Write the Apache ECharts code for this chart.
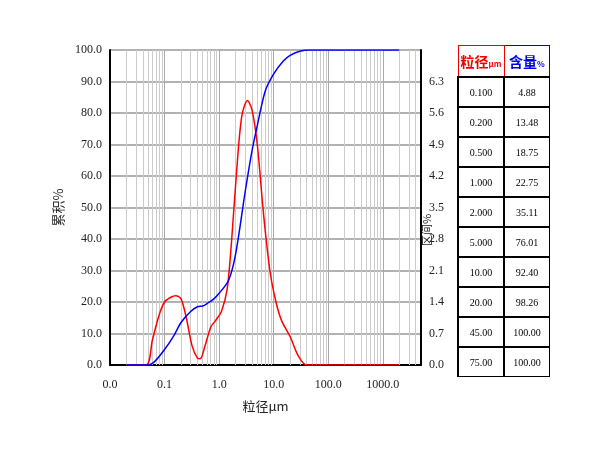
<!DOCTYPE html>
<html><head><meta charset="utf-8">
<script src="https://cdn.jsdelivr.net/npm/echarts@6/dist/echarts.min.js"></script>
<style>
body{margin:0;background:#fff;}
#c{position:absolute;left:0;top:0;width:600px;height:450px;}
#t{position:absolute;left:457px;top:45px;border-collapse:collapse;font-family:"Liberation Serif",serif;font-size:10px;}
#t td{border:1px solid #000;border-left:2px solid #000;width:44px;height:28px;text-align:center;padding:0;}
#t tr:not(:first-child) td{border-top:2px solid #000;}
#t th{height:30px;font-size:14px;font-weight:bold;font-family:"Noto Sans CJK SC";padding:0;}
</style></head><body>
<div id="c"></div>
<table id="t"></table>
<script>
const tableSize = ["0.100","0.200","0.500","1.000","2.000","5.000","10.00","20.00","45.00","75.00"];
const tableCum = ["4.88","13.48","18.75","22.75","35.11","76.01","92.40","98.26","100.00","100.00"];
const cumulative = [[0.02,0],[0.05,0],[0.065,1],[0.1,4.9],[0.15,9.5],[0.2,13.5],[0.3,17],[0.4,18.5],[0.5,18.75],[0.6,19.5],[0.8,21],[1,22.75],[1.5,27],[2,35.1],[3,55],[4,68],[5,76],[7,87],[10,92.4],[15,96.5],[20,98.3],[30,99.6],[45,100],[100,100],[2000,100]];
const differential = [[0.02,0],[0.046,0],[0.06,8],[0.08,16],[0.1,20],[0.13,21.5],[0.16,22],[0.2,21],[0.25,15],[0.32,6],[0.4,2.2],[0.45,2],[0.55,6],[0.7,12],[0.85,14],[1.1,17],[1.4,24],[1.7,40],[2.1,62],[2.6,79],[3.3,84],[4,81],[5,70],[6.5,48],[8.5,30],[11,20],[14,14],[20,9],[28,3],[40,0],[100,0],[2000,0]];
const minorGrid = [0.02,0.03,0.04,0.05,0.06,0.07,0.08,0.09,0.2,0.3,0.4,0.5,0.6,0.7,0.8,0.9,2,3,4,5,6,7,8,9,20,30,40,50,60,70,80,90,200,300,400,500,600,700,800,900,2000,3000,4000];

const t=document.getElementById('t');
t.innerHTML='<tr><th style="border:1px solid #e00;color:#e00">粒径<span style="font-size:8px">μm</span></th><th style="border:1px solid #00e;color:#00e">含量<span style="font-size:8px">%</span></th></tr>'+
 tableSize.map((s,i)=>'<tr><td>'+s+'</td><td>'+tableCum[i]+'</td></tr>').join('');

const ch=echarts.init(document.getElementById('c'));
const font={fontFamily:'Liberation Serif',fontSize:12,color:'#222'};
ch.setOption({
 animation:false,
 grid:{left:110,right:179,top:50,bottom:85},
 graphic:[{type:'text',x:421,y:246,rotation:Math.PI/2,style:{text:'区间%',font:'11px "Noto Sans CJK SC"',fill:'#222'}}],
 xAxis:{type:'log',min:0.01,max:5000,logBase:10,
   name:'粒径μm',nameLocation:'middle',nameGap:35,nameTextStyle:{fontFamily:'Noto Sans CJK SC',fontSize:13,color:'#222'},
   axisLine:{lineStyle:{color:'#000',width:2}},axisTick:{show:false},
   axisLabel:Object.assign({formatter:v=>v<0.05?'0.0':(v>3000?'':v.toFixed(1)),margin:14},font),
   splitLine:{show:true,lineStyle:{color:'#aaa'}}},
 yAxis:[{type:'value',min:0,max:100,interval:10,
   name:'累积%',nameLocation:'middle',nameGap:32,nameTextStyle:{fontFamily:'Noto Sans CJK SC',fontSize:13,color:'#222'},
   axisLine:{show:true,lineStyle:{color:'#000',width:2}},axisTick:{show:false},
   axisLabel:Object.assign({formatter:v=>v.toFixed(1)},font),
   splitLine:{lineStyle:{color:'#999',width:1.5}}},
  {type:'value',min:0,max:7,interval:0.7,position:'right',
   axisLine:{show:true,lineStyle:{color:'#000',width:2}},axisTick:{show:false},
   axisLabel:Object.assign({formatter:v=>v>6.9?'':v.toFixed(1),margin:8},font),
   splitLine:{show:false}}],
 series:[
  {type:'line',data:[],z:1,
   markLine:{silent:true,symbol:'none',z:1,label:{show:false},lineStyle:{color:'#ccc',type:'solid',width:1},
     data:minorGrid.map(v=>({xAxis:v}))}},
  {type:'line',data:differential,smooth:0.3,showSymbol:false,lineStyle:{color:'#f00',width:1.5},z:5},
  {type:'line',data:cumulative,smooth:0.3,showSymbol:false,lineStyle:{color:'#00f',width:1.5},z:6}
 ]
});
</script></body></html>
